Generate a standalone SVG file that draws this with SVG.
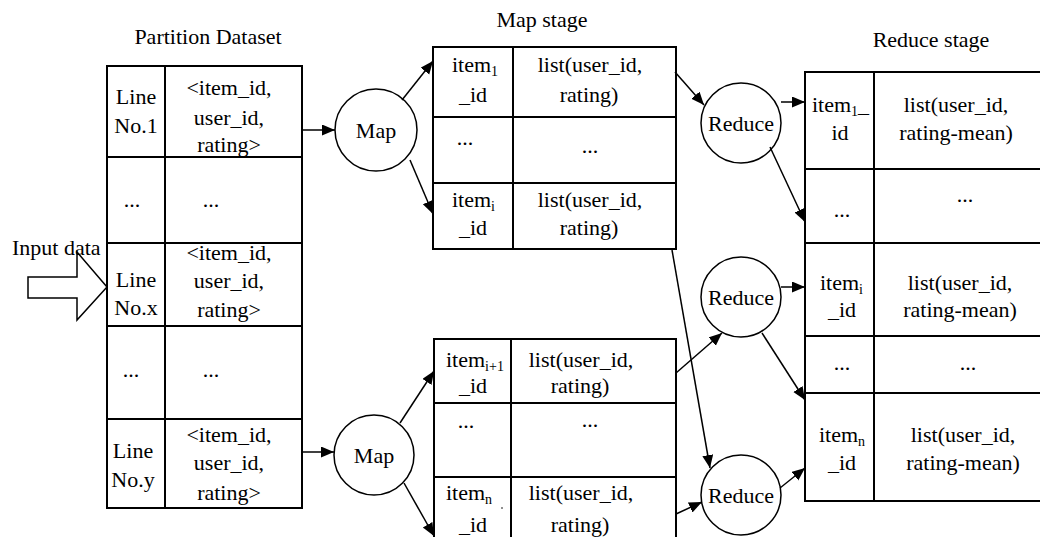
<svg xmlns="http://www.w3.org/2000/svg" width="1040" height="537" viewBox="0 0 1040 537">
  <style>
    text { font-family: "Liberation Serif", "Times New Roman", serif; font-size: 22px; fill: #000; }
    .c { text-anchor: middle; }
    .sub { font-size: 14px; }
    .tbl { fill: #fff; stroke: #000; stroke-width: 2; }
    .grid { stroke: #000; stroke-width: 2; fill: none; }
    .node { fill: #fff; stroke: #000; stroke-width: 1.5; }
    .edge { stroke: #000; stroke-width: 1.5; fill: none; marker-end: url(#arrow); }
  </style>
  <defs>
    <marker id="arrow" markerUnits="userSpaceOnUse" markerWidth="14" markerHeight="12" refX="13" refY="5.5" orient="auto">
      <path d="M0,0 L13,5.5 L0,11 z" fill="#000"/>
    </marker>
  </defs>
  <rect width="1040" height="537" fill="#fff"/>

  <!-- stage titles -->
  <text class="c" x="208" y="44">Partition Dataset</text>
  <text class="c" x="542" y="27">Map stage</text>
  <text class="c" x="931" y="47">Reduce stage</text>

  <!-- input arrow -->
  <g id="input">
    <text x="12" y="255">Input data</text>
    <polygon points="28,277 77,277 77,252 107,287 77,320 77,298 28,298" fill="#fff" stroke="#000" stroke-width="1.5"/>
  </g>

  <!-- partitioned dataset table -->
  <g id="partition">
    <rect class="tbl" x="107" y="66" width="195" height="442"/>
    <path class="grid" d="M165,66 V508 M107,157 H302 M107,243 H302 M107,326 H302 M107,419 H302"/>
    <text class="c" x="136" y="104">Line</text>
    <text class="c" x="136" y="133">No.1</text>
    <text class="c" x="229" y="95">&lt;item_id,</text>
    <text class="c" x="229" y="125">user_id,</text>
    <text class="c" x="229" y="152">rating&gt;</text>
    <text class="c" x="132" y="207">...</text>
    <text class="c" x="211" y="207">...</text>
    <text class="c" x="136" y="287">Line</text>
    <text class="c" x="136" y="315">No.x</text>
    <text class="c" x="229" y="260">&lt;item_id,</text>
    <text class="c" x="229" y="288">user_id,</text>
    <text class="c" x="229" y="317">rating&gt;</text>
    <text class="c" x="131" y="377">...</text>
    <text class="c" x="211" y="377">...</text>
    <text class="c" x="133" y="458">Line</text>
    <text class="c" x="133" y="487">No.y</text>
    <text class="c" x="229" y="442">&lt;item_id,</text>
    <text class="c" x="229" y="470">user_id,</text>
    <text class="c" x="229" y="500">rating&gt;</text>
  </g>

  <!-- map nodes -->
  <g id="map1">
    <circle class="node" cx="376" cy="130" r="41"/>
    <text class="c" x="376" y="138">Map</text>
  </g>
  <g id="map2">
    <circle class="node" cx="374" cy="455" r="40"/>
    <text class="c" x="374" y="463">Map</text>
  </g>

  <!-- map output tables -->
  <g id="map-out-1">
    <rect class="tbl" x="433" y="47" width="243" height="202"/>
    <path class="grid" d="M513,47 V249 M433,117 H676 M433,183 H676"/>
    <text x="452" y="72">item<tspan class="sub" dy="4">1</tspan></text>
    <text class="c" x="473" y="102">_id</text>
    <text class="c" x="590" y="72">list(user_id,</text>
    <text class="c" x="589" y="102">rating)</text>
    <text class="c" x="465" y="145">...</text>
    <text class="c" x="590" y="153">...</text>
    <text x="452" y="207">item<tspan class="sub" dy="4">i</tspan></text>
    <text class="c" x="473" y="235">_id</text>
    <text class="c" x="590" y="207">list(user_id,</text>
    <text class="c" x="589" y="235">rating)</text>
  </g>
  <g id="map-out-2">
    <rect class="tbl" x="434" y="339" width="242" height="210"/>
    <path class="grid" d="M511,339 V549 M434,403 H676 M434,477 H676"/>
    <text x="446" y="367">item<tspan class="sub" dy="4">i+1</tspan></text>
    <text class="c" x="473" y="393">_id</text>
    <text class="c" x="581" y="367">list(user_id,</text>
    <text class="c" x="580" y="393">rating)</text>
    <text class="c" x="466" y="428">...</text>
    <text class="c" x="590" y="427">...</text>
    <text x="446" y="500">item<tspan class="sub" dy="4">n</tspan></text>
    <circle cx="502" cy="508" r="0.8" fill="#000"/>
    <text class="c" x="473" y="532">_id</text>
    <text class="c" x="581" y="500">list(user_id,</text>
    <text class="c" x="580" y="532">rating)</text>
  </g>

  <!-- reduce nodes -->
  <g id="reduce1">
    <circle class="node" cx="741" cy="123" r="40"/>
    <text class="c" x="741" y="131">Reduce</text>
  </g>
  <g id="reduce2">
    <circle class="node" cx="741" cy="297" r="40"/>
    <text class="c" x="741" y="305">Reduce</text>
  </g>
  <g id="reduce3">
    <circle class="node" cx="741" cy="495" r="40"/>
    <text class="c" x="741" y="503">Reduce</text>
  </g>

  <!-- reduce output table -->
  <g id="reduce-out">
    <rect class="tbl" x="805" y="72" width="245" height="429"/>
    <path class="grid" d="M874,72 V501 M805,169 H1050 M805,243 H1050 M805,336 H1050 M805,393 H1050"/>
    <text x="812" y="112">item<tspan class="sub" dy="4">1</tspan><tspan dy="-4">_</tspan></text>
    <text class="c" x="840" y="140">id</text>
    <text class="c" x="956" y="112">list(user_id,</text>
    <text class="c" x="956" y="140">rating-mean)</text>
    <text class="c" x="842" y="217">...</text>
    <text class="c" x="965" y="202">...</text>
    <text x="820" y="290">item<tspan class="sub" dy="4">i</tspan></text>
    <text class="c" x="842" y="317">_id</text>
    <text class="c" x="960" y="290">list(user_id,</text>
    <text class="c" x="960" y="317">rating-mean)</text>
    <text class="c" x="842" y="370">...</text>
    <text class="c" x="968" y="370">...</text>
    <text x="819" y="442">item<tspan class="sub" dy="4">n</tspan></text>
    <text class="c" x="842" y="470">_id</text>
    <text class="c" x="963" y="442">list(user_id,</text>
    <text class="c" x="963" y="470">rating-mean)</text>
  </g>

  <!-- connectors -->
  <g id="connectors">
    <line class="edge" x1="302" y1="130" x2="335" y2="130"/>
    <line class="edge" x1="302" y1="452" x2="334" y2="452"/>
    <line class="edge" x1="402" y1="100" x2="433" y2="61"/>
    <line class="edge" x1="410" y1="160" x2="433" y2="214"/>
    <line class="edge" x1="400" y1="423" x2="434" y2="371"/>
    <line class="edge" x1="404" y1="483" x2="434" y2="536"/>
    <line class="edge" x1="675" y1="72" x2="704" y2="105"/>
    <line class="edge" x1="672" y1="250" x2="710" y2="468"/>
    <line class="edge" x1="676" y1="373" x2="722" y2="333"/>
    <line class="edge" x1="676" y1="514" x2="702" y2="502"/>
    <line class="edge" x1="781" y1="102" x2="805" y2="102"/>
    <line class="edge" x1="770" y1="147" x2="805" y2="222"/>
    <line class="edge" x1="781" y1="287" x2="805" y2="287"/>
    <line class="edge" x1="762" y1="333" x2="805" y2="400"/>
    <line class="edge" x1="780" y1="488" x2="805" y2="468"/>
  </g>
</svg>
